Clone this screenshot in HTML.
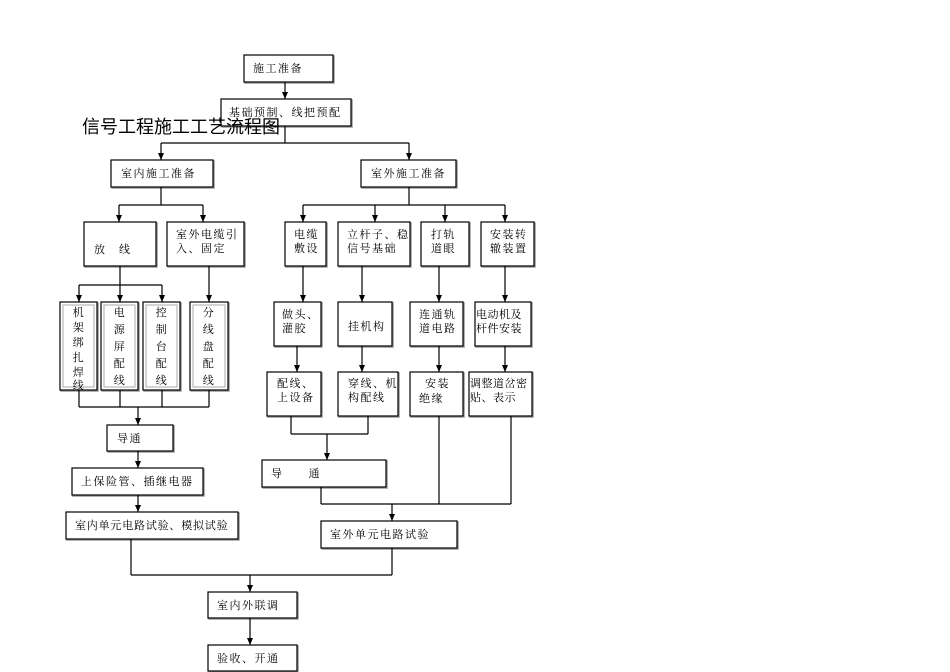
<!DOCTYPE html>
<html><head><meta charset="utf-8"><style>
html,body{margin:0;padding:0;background:#fff;}
svg{display:block;}
text{font-family:"Liberation Serif","Noto Serif CJK SC","Noto Sans CJK SC",serif;font-size:11px;fill:#000;letter-spacing:1.5px;}
.t{font-family:"Liberation Sans","Noto Sans CJK SC",sans-serif;font-size:18px;letter-spacing:0;}
</style></head><body>
<svg width="950" height="672" viewBox="0 0 950 672" xmlns="http://www.w3.org/2000/svg">
<g fill="none" stroke="#000" stroke-width="1.2">
<g stroke="#999" stroke-width="1.5" transform="translate(1,1)">
<rect x="244" y="55" width="89" height="27"/>
<rect x="221" y="99" width="130" height="27"/>
<rect x="111" y="160" width="102" height="27"/>
<rect x="361" y="160" width="95" height="27"/>
<rect x="84" y="222" width="72" height="44"/>
<rect x="167" y="222" width="77" height="44"/>
<rect x="285" y="222" width="41" height="44"/>
<rect x="338" y="222" width="72" height="44"/>
<rect x="421" y="222" width="48" height="44"/>
<rect x="481" y="222" width="53" height="44"/>
<rect x="274" y="302" width="47" height="44"/>
<rect x="338" y="302" width="54" height="44"/>
<rect x="410" y="302" width="53" height="44"/>
<rect x="475" y="302" width="56" height="44"/>
<rect x="267" y="372" width="54" height="44"/>
<rect x="338" y="372" width="60" height="44"/>
<rect x="410" y="372" width="53" height="44"/>
<rect x="469" y="372" width="63" height="44"/>
<rect x="107" y="425" width="66" height="26"/>
<rect x="72" y="468" width="131" height="27"/>
<rect x="66" y="512" width="172" height="27"/>
<rect x="262" y="460" width="124" height="27"/>
<rect x="321" y="521" width="136" height="27"/>
<rect x="208" y="592" width="89" height="26"/>
<rect x="208" y="645" width="89" height="26"/>
<rect x="60" y="302" width="37" height="88"/>
<rect x="101" y="302" width="37" height="88"/>
<rect x="143" y="302" width="37" height="88"/>
<rect x="190" y="302" width="38" height="88"/>
</g>
<g fill="#fff">
<rect x="244" y="55" width="89" height="27"/>
<rect x="221" y="99" width="130" height="27"/>
<rect x="111" y="160" width="102" height="27"/>
<rect x="361" y="160" width="95" height="27"/>
<rect x="84" y="222" width="72" height="44"/>
<rect x="167" y="222" width="77" height="44"/>
<rect x="285" y="222" width="41" height="44"/>
<rect x="338" y="222" width="72" height="44"/>
<rect x="421" y="222" width="48" height="44"/>
<rect x="481" y="222" width="53" height="44"/>
<rect x="274" y="302" width="47" height="44"/>
<rect x="338" y="302" width="54" height="44"/>
<rect x="410" y="302" width="53" height="44"/>
<rect x="475" y="302" width="56" height="44"/>
<rect x="267" y="372" width="54" height="44"/>
<rect x="338" y="372" width="60" height="44"/>
<rect x="410" y="372" width="53" height="44"/>
<rect x="469" y="372" width="63" height="44"/>
<rect x="107" y="425" width="66" height="26"/>
<rect x="72" y="468" width="131" height="27"/>
<rect x="66" y="512" width="172" height="27"/>
<rect x="262" y="460" width="124" height="27"/>
<rect x="321" y="521" width="136" height="27"/>
<rect x="208" y="592" width="89" height="26"/>
<rect x="208" y="645" width="89" height="26"/>
<rect x="60" y="302" width="37" height="88"/>
<rect x="101" y="302" width="37" height="88"/>
<rect x="143" y="302" width="37" height="88"/>
<rect x="190" y="302" width="38" height="88"/>
</g>
<g stroke="#aaa" stroke-width="1">
<rect x="63" y="305" width="31" height="82"/>
<rect x="104" y="305" width="31" height="82"/>
<rect x="146" y="305" width="31" height="82"/>
<rect x="193" y="305" width="32" height="82"/>
</g>
<g stroke-width="1.2">
<path d="M285,82V99"/>
<path d="M285,126V143M161,143H409M161,143V160M409,143V160"/>
<path d="M161,187V205M119,205H203M119,205V222M203,205V222"/>
<path d="M120,266V285M79,285H162M79,285V302M120,285V302M162,285V302M209,266V302"/>
<path d="M79,390V407M120,390V407M162,390V407M209,390V407M79,407H209M138,407V425"/>
<path d="M138,451V468M138,495V512"/>
<path d="M409,187V205M303,205H505M303,205V222M375,205V222M445,205V222M505,205V222"/>
<path d="M303,266V302M362,266V302M439,266V302M505,266V302"/>
<path d="M297,346V372M362,346V372M439,346V372M505,346V372"/>
<path d="M291,416V434M368,416V434M291,434H368M327,434V460"/>
<path d="M321,487V504M439,416V504M511,416V504M321,504H511M392,504V521"/>
<path d="M131,539V575M392,548V575M131,575H392M250,575V592"/>
<path d="M250,618V645"/>
</g>
</g>
<g fill="#000">
<path d="M282,92h6l-3,7z"/>
<path d="M158,153h6l-3,7z"/><path d="M406,153h6l-3,7z"/>
<path d="M116,215h6l-3,7z"/><path d="M200,215h6l-3,7z"/>
<path d="M76,295h6l-3,7z"/><path d="M117,295h6l-3,7z"/><path d="M159,295h6l-3,7z"/><path d="M206,295h6l-3,7z"/>
<path d="M135,418h6l-3,7z"/><path d="M135,461h6l-3,7z"/><path d="M135,505h6l-3,7z"/>
<path d="M300,215h6l-3,7z"/><path d="M372,215h6l-3,7z"/><path d="M442,215h6l-3,7z"/><path d="M502,215h6l-3,7z"/>
<path d="M300,295h6l-3,7z"/><path d="M359,295h6l-3,7z"/><path d="M436,295h6l-3,7z"/><path d="M502,295h6l-3,7z"/>
<path d="M294,365h6l-3,7z"/><path d="M359,365h6l-3,7z"/><path d="M436,365h6l-3,7z"/><path d="M502,365h6l-3,7z"/>
<path d="M324,453h6l-3,7z"/><path d="M389,514h6l-3,7z"/>
<path d="M247,585h6l-3,7z"/><path d="M247,638h6l-3,7z"/>
</g>
<text x="253" y="72">施工准备</text>
<text x="229" y="116">基础预制、线把预配</text>
<text class="t" x="82" y="133">信号工程施工工艺流程图</text>
<text x="121" y="177">室内施工准备</text>
<text x="371" y="177">室外施工准备</text>
<text x="94" y="253">放　线</text>
<text x="176" y="238">室外电缆引</text><text x="176" y="252">入、固定</text>
<text x="294" y="238">电缆</text><text x="294" y="252">敷设</text>
<text x="347" y="238">立杆子、稳</text><text x="347" y="252">信号基础</text>
<text x="431" y="238">打轨</text><text x="431" y="252">道眼</text>
<text x="490" y="238">安装转</text><text x="490" y="252">辙装置</text>
<text x="282" y="318">做头、</text><text x="282" y="332">灌胶</text>
<text x="348" y="330">挂机构</text>
<text x="419" y="318">连通轨</text><text x="419" y="332">道电路</text>
<text x="476" y="318" style="letter-spacing:0.5px">电动机及</text><text x="476" y="332" style="letter-spacing:0.5px">杆件安装</text>
<text x="277" y="387">配线、</text><text x="277" y="401">上设备</text>
<text x="348" y="387">穿线、机</text><text x="348" y="401">构配线</text>
<text x="425" y="387">安装</text><text x="419" y="402">绝缘</text>
<text x="470" y="387" style="letter-spacing:0.5px">调整道岔密</text><text x="470" y="401" style="letter-spacing:0.5px">贴、表示</text>
<g text-anchor="middle" style="letter-spacing:0">
<text x="79" y="316">机</text><text x="79" y="331">架</text><text x="79" y="346">绑</text><text x="79" y="361">扎</text><text x="79" y="376">焊</text><text x="79" y="389" font-size="10">线</text>
<text x="120" y="316">电</text><text x="120" y="333">源</text><text x="120" y="350">屏</text><text x="120" y="367">配</text><text x="120" y="384">线</text>
<text x="162" y="316">控</text><text x="162" y="333">制</text><text x="162" y="350">台</text><text x="162" y="367">配</text><text x="162" y="384">线</text>
<text x="209" y="316">分</text><text x="209" y="333">线</text><text x="209" y="350">盘</text><text x="209" y="367">配</text><text x="209" y="384">线</text>
</g>
<text x="117" y="442">导通</text>
<text x="81" y="485">上保险管、插继电器</text>
<text x="75" y="529" style="letter-spacing:0.8px">室内单元电路试验、模拟试验</text>
<text x="271" y="477">导　　通</text>
<text x="330" y="538">室外单元电路试验</text>
<text x="217" y="609">室内外联调</text>
<text x="217" y="662">验收、开通</text>
</svg>
</body></html>
